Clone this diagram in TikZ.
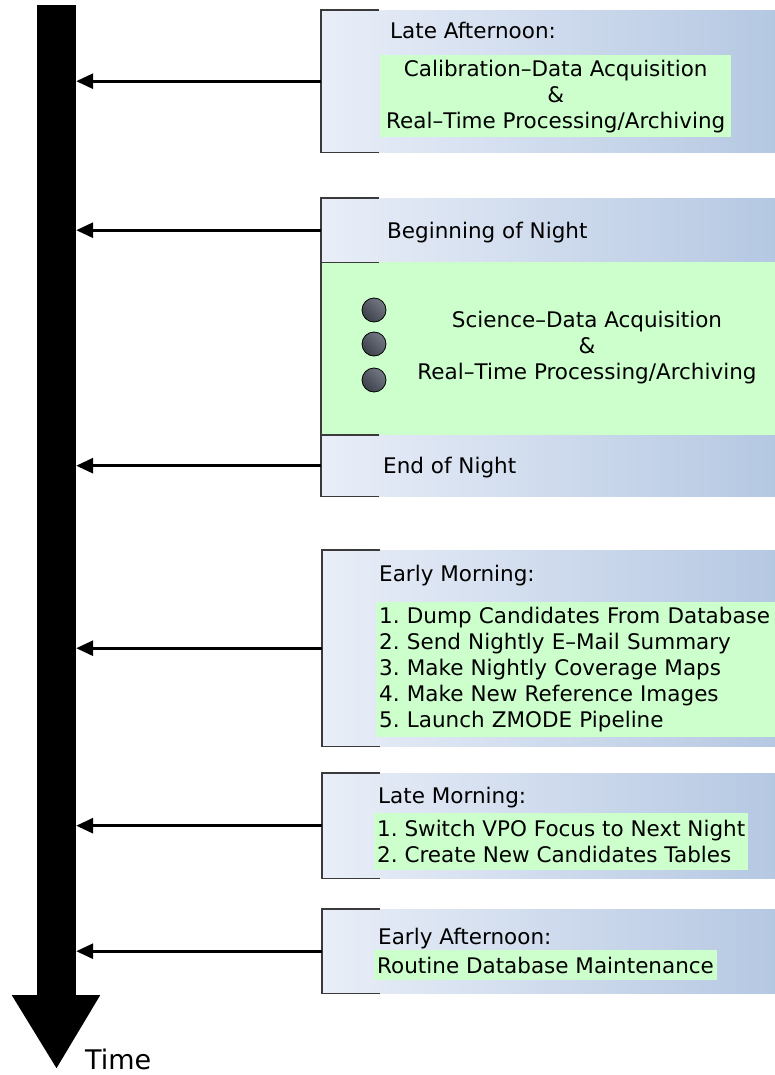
\documentclass[tikz,border=0pt]{standalone}
\usepackage{fontspec}
\setmainfont{DejaVu Sans}
\usetikzlibrary{arrows.meta,positioning,calc}
\frenchspacing
\definecolor{slotLeft}{HTML}{E9EEF8}
\definecolor{slotRight}{HTML}{B5C8E2}
\definecolor{taskGreen}{HTML}{CCFFCC}
\definecolor{rimGray}{HTML}{3A3A3A}
\definecolor{dotDark}{HTML}{3C4049}
\definecolor{dotLight}{HTML}{747985}
\tikzset{
  slot/.style={rectangle, anchor=north west, inner sep=0pt,
        left color=slotLeft, right color=slotRight, minimum width=454pt},
  task/.style={rectangle, anchor=north west, fill=taskGreen, inner sep=3pt,
        font=\fontsize{21.5}{26}\selectfont},
  hdr/.style={anchor=base west, inner sep=0pt, font=\fontsize{21.5}{26}\selectfont},
  rim/.style={draw=rimGray, line width=1.1pt},
  tick/.style={-{Triangle[length=17pt,width=15pt]}, line width=3pt, draw=black},
  timebar/.style={rectangle, fill=black, inner sep=0pt,
        minimum width=39pt, minimum height=990pt},
  dot/.style={circle, draw=black, line width=0.8pt, inner sep=0pt, minimum size=24pt,
        left color=dotDark, right color=dotLight, shading angle=135}
}
\begin{document}
\begin{tikzpicture}[x=1pt, y=-1pt]
\fill[white] (0,0) rectangle (775,1075);
\useasboundingbox (0,0) rectangle (775,1075);

% time axis
\node[timebar] (bar) at (56.5,500) {};
\fill ($(bar.south west)+(-25,0)$) -- ($(bar.south east)+(24,0)$)
      -- ($(bar.south)+(0,73)$) -- cycle;
\node[anchor=base west, inner sep=0pt, font=\fontsize{27}{32}\selectfont] (time) at (85,1069) {Time};

% slots
\node[slot, minimum height=142pt] (la) at (321,10) {};
\node[hdr] at (390,38.5) {Late Afternoon:};
\node[task, minimum width=351pt, minimum height=82pt, align=center] (laT) at (380,55)
  {Calibration--Data Acquisition\\\&\\Real--Time Processing/Archiving};

\node[slot, minimum height=64pt] (bon) at (321,198) {};
\node[hdr] at (387,238) {Beginning of Night};
\node[slot, fill=taskGreen, shade=false, minimum height=173pt] (sci) at (321,262) {};
\node[slot, minimum height=61pt] (eon) at (321,435) {};
\node[hdr] at (383,473) {End of Night};
\node[dot] (d1) at (374,310) {};
\node[dot] (d2) at (374,344) {};
\node[dot] (d3) at (374,380) {};
\node[align=center, font=\fontsize{21.5}{26}\selectfont] (sciT) at (587,348)
  {Science--Data Acquisition\\\&\\Real--Time Processing/Archiving};

\node[slot, minimum height=196pt] (em) at (322,550) {};
\node[hdr] at (379,581) {Early Morning:};
\node[task, text width=393pt, minimum height=135pt, align=left] (emT) at (376,602)
  {1. Dump Candidates From Database\\2. Send Nightly E--Mail Summary\\3. Make Nightly Coverage Maps\\4. Make New Reference Images\\5. Launch ZMODE Pipeline};

\node[slot, minimum height=105pt] (lm) at (322,773) {};
\node[hdr] at (378,803) {Late Morning:};
\node[task, minimum height=57pt, align=left] (lmT) at (374,813)
  {1. Switch VPO Focus to Next Night\\2. Create New Candidates Tables};

\node[slot, minimum height=84pt] (ea) at (322,909) {};
\node[hdr] at (378,944) {Early Afternoon:};
\node[task, minimum height=30pt, align=left] (eaT) at (374,950)
  {Routine Database Maintenance};

\foreach \b in {la,bon,eon,em,lm,ea}
  \draw[rim] ($(\b.north west)+(58,0)$) -- (\b.north west) -- (\b.south west) -- ($(\b.south west)+(58,0)$);
\draw[rim] (sci.north west) -- (sci.south west);

\foreach \b in {la,bon,eon,em,lm,ea}
  \draw[tick] (\b.west) -- (\b.west -| bar.east);
\end{tikzpicture}
\end{document}
